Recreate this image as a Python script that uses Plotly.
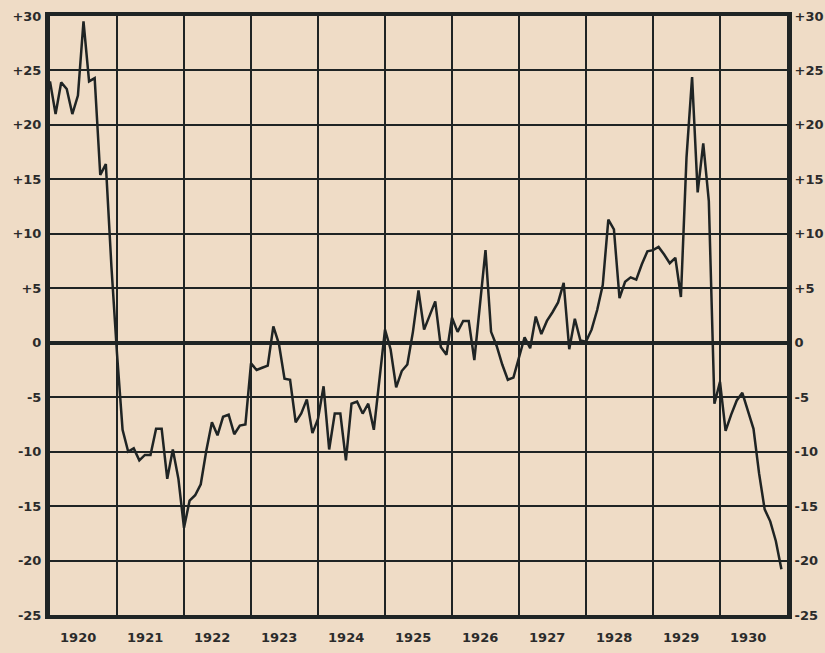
import plotly.graph_objects as go

years = list(range(1920, 1931))
year_labels = [str(y) for y in years]

v1920 = [24.0, 21.0, 23.9, 23.3, 21.0, 22.7, 29.5, 24.0, 24.3, 15.4, 16.4, 7.0]
v1921 = [-1.0, -8.0, -10.0, -9.7, -10.8, -10.3, -10.3, -7.9, -7.9, -12.5, -9.8, -12.5]
v1922 = [-17.0, -14.5, -14.0, -13.0, -9.9, -7.3, -8.5, -6.8, -6.6, -8.4, -7.6, -7.5]
v1923 = [-1.9, -2.5, -2.3, -2.1, 1.5, -0.1, -3.3, -3.4, -7.3, -6.5, -5.2, -8.3]
v1924 = [-7.0, -4.0, -9.8, -6.5, -6.5, -10.8, -5.6, -5.4, -6.5, -5.6, -8.0, -3.5]
v1925 = [1.2, -0.6, -4.1, -2.6, -2.0, 1.0, 4.8, 1.2, 2.6, 3.8, -0.4, -1.1]
v1926 = [2.3, 1.0, 2.0, 2.0, -1.6, 3.5, 8.5, 1.0, -0.3, -2.0, -3.4, -3.2]
v1927 = [-1.3, 0.5, -0.5, 2.4, 0.8, 2.0, 2.8, 3.7, 5.5, -0.6, 2.2, 0.2]
v1928 = [0.1, 1.2, 3.0, 5.3, 11.3, 10.4, 4.1, 5.6, 6.0, 5.8, 7.2, 8.4]
v1929 = [8.5, 8.8, 8.1, 7.3, 7.8, 4.2, 17.0, 24.4, 13.8, 18.3, 13.0, -5.6]
v1930 = [-3.6, -8.1, -6.6, -5.3, -4.6, -6.3, -7.9, -12.0, -15.3, -16.4, -18.2, -20.8]

series = [v1920, v1921, v1922, v1923, v1924, v1925, v1926, v1927, v1928, v1929, v1930]

y_ticks = [30, 25, 20, 15, 10, 5, 0, -5, -10, -15, -20, -25]
y_tick_text = ["+30", "+25", "+20", "+15", "+10", "+5", "0", "-5", "-10", "-15", "-20", "-25"]

xs, ys = [], []
for yr, vals in zip(years, series):
    for m, v in enumerate(vals):
        xs.append(yr + m / 12.0)
        ys.append(v)

ink = "#1f2424"
paper = "#efdcc6"
font = dict(family="DejaVu Sans", size=13, color="#2b2b2b", weight="bold")

fig = go.Figure()
fig.add_trace(go.Scatter(x=xs, y=ys, mode="lines",
                         line=dict(color=ink, width=2.5), showlegend=False,
                         hoverinfo="skip"))
fig.add_trace(go.Scatter(x=[1920, 1931], y=[None, None], yaxis="y2",
                         showlegend=False, hoverinfo="skip"))

fig.update_layout(
    width=825, height=653,
    margin=dict(l=50, r=38, t=16, b=38),
    paper_bgcolor=paper, plot_bgcolor=paper,
    xaxis=dict(range=[1920, 1931], tickvals=[y + 0.42 for y in years],
               ticktext=year_labels, tickfont=font, ticks="outside",
               ticklen=8, tickcolor="rgba(0,0,0,0)", showgrid=False,
               zeroline=False, showline=True, linecolor=ink, linewidth=3.5,
               mirror=True, automargin=False,
               minor=dict(tick0=1920, dtick=1, showgrid=True,
                          gridcolor=ink, gridwidth=1.6)),
    yaxis=dict(range=[-25, 30], tickvals=y_ticks, ticktext=y_tick_text,
               tickfont=font, showgrid=True, gridcolor=ink, gridwidth=1.6,
               zeroline=True, zerolinecolor=ink, zerolinewidth=4,
               showline=True, linecolor=ink, linewidth=5, mirror=True,
               automargin=False,
               ticks="outside", ticklen=1, tickcolor="rgba(0,0,0,0)"),
    yaxis2=dict(range=[-25, 30], tickvals=y_ticks, ticktext=y_tick_text,
                tickfont=font, overlaying="y", side="right", showgrid=False,
                zeroline=False, showline=False, ticks="outside", ticklen=4,
                automargin=False, tickcolor="rgba(0,0,0,0)"),
)

fig.write_html("out.html",
               config={"displayModeBar": False},
               post_script="document.body.style.margin='0';"
                           "document.body.style.padding='0';"
                           "document.body.style.overflow='hidden';"
                           "document.documentElement.style.overflow='hidden';"
                           "document.body.style.background='%s';" % paper)
